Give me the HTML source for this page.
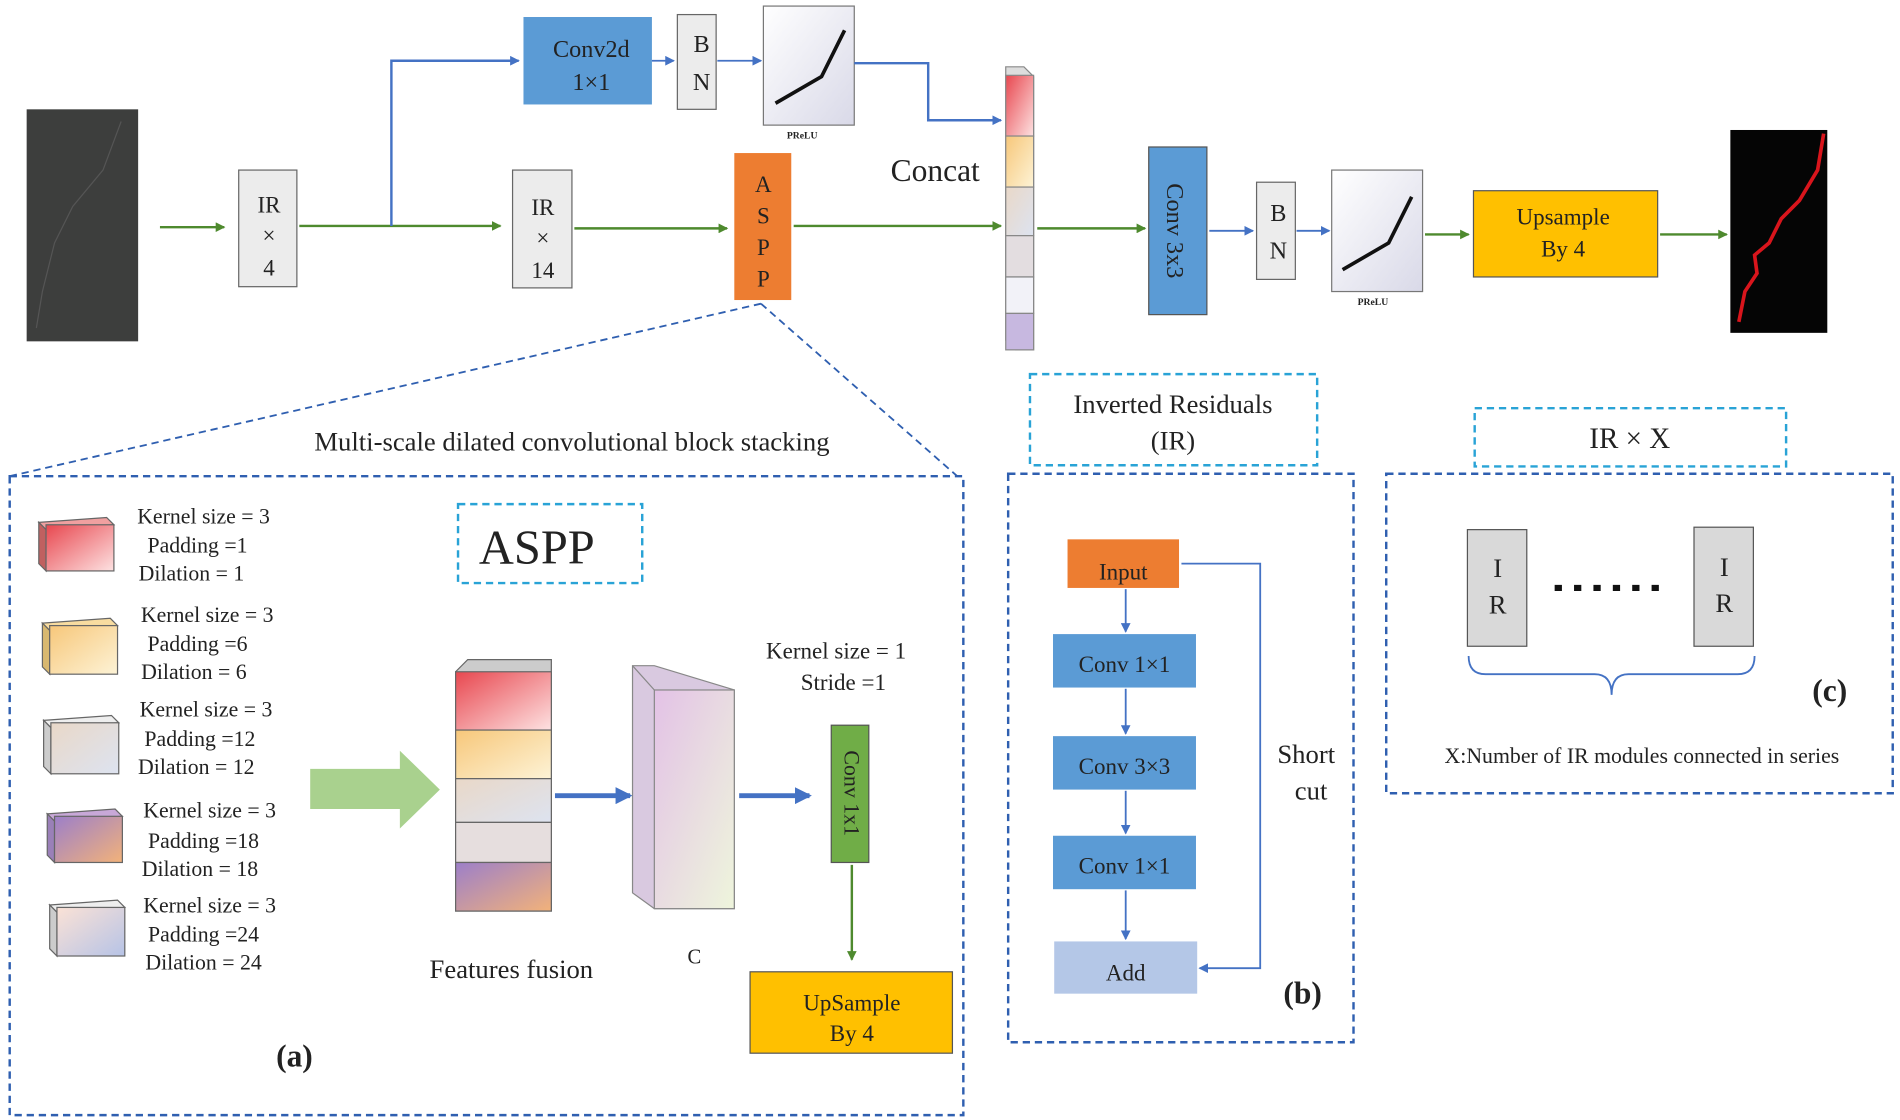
<!DOCTYPE html>
<html><head><meta charset="utf-8"><style>
html,body{margin:0;padding:0;background:#fff}
svg{display:block}
text{font-family:"Liberation Serif",serif;fill:#222}
</style></head><body>
<svg width="1900" height="1120" viewBox="0 0 1568 922" preserveAspectRatio="none" xmlns="http://www.w3.org/2000/svg">
<defs>
<marker id="ag" markerWidth="8" markerHeight="8" refX="7" refY="4" orient="auto" markerUnits="userSpaceOnUse"><path d="M0,0L8,4L0,8z" fill="#4e8a2e"/></marker>
<marker id="ab" markerWidth="8" markerHeight="8" refX="7" refY="4" orient="auto" markerUnits="userSpaceOnUse"><path d="M0,0L8,4L0,8z" fill="#4472c4"/></marker>
<marker id="ab2" markerWidth="14" markerHeight="14" refX="12" refY="7" orient="auto" markerUnits="userSpaceOnUse"><path d="M0,0L14,7L0,14z" fill="#4472c4"/></marker>
<linearGradient id="gp" x1="0" y1="0" x2="1" y2="1"><stop offset="0" stop-color="#fff"/><stop offset="1" stop-color="#d9d9e8"/></linearGradient>
<linearGradient id="c1" x1="0" y1="0" x2="1" y2="1"><stop offset="0" stop-color="#e8474f"/><stop offset="1" stop-color="#fde2e2"/></linearGradient>
<linearGradient id="c2" x1="0" y1="0" x2="1" y2="1"><stop offset="0" stop-color="#f7c77a"/><stop offset="1" stop-color="#fdf3d6"/></linearGradient>
<linearGradient id="c3" x1="0" y1="0" x2="1" y2="1"><stop offset="0" stop-color="#e9d8c8"/><stop offset="1" stop-color="#dde3f0"/></linearGradient>
<linearGradient id="c4" x1="0" y1="0" x2="1" y2="1"><stop offset="0" stop-color="#9c7fc9"/><stop offset="1" stop-color="#f2b27a"/></linearGradient>
<linearGradient id="c5" x1="0" y1="0" x2="1" y2="1"><stop offset="0" stop-color="#fbe2d6"/><stop offset="1" stop-color="#b6c3e6"/></linearGradient>
<linearGradient id="pr" x1="0" y1="0" x2="1" y2="1"><stop offset="0" stop-color="#e3c2e6"/><stop offset="1" stop-color="#eef5dc"/></linearGradient>
</defs>

<!-- input image -->
<rect x="22" y="90" width="92" height="191" fill="#3d3e3d"/>
<path d="M100,100 L85,140 L60,170 L45,200 L35,240 L30,270" stroke="#555" fill="none"/>
<line x1="132" y1="187" x2="185" y2="187" stroke="#4e8a2e" stroke-width="2" marker-end="url(#ag)"/>
<rect x="197" y="140" width="48" height="96" fill="#ececec" stroke="#666"/>
<text x="222" y="175" font-size="19" text-anchor="middle">IR</text>
<text x="222" y="200" font-size="19" text-anchor="middle">×</text>
<text x="222" y="227" font-size="19" text-anchor="middle">4</text>
<line x1="247" y1="186" x2="413" y2="186" stroke="#4e8a2e" stroke-width="2" marker-end="url(#ag)"/>
<polyline points="323,186 323,50 428,50" stroke="#4472c4" stroke-width="2" fill="none" marker-end="url(#ab)"/>
<rect x="432" y="14" width="106" height="72" fill="#5b9bd5"/>
<text x="488" y="47" font-size="20" text-anchor="middle">Conv2d</text>
<text x="488" y="74" font-size="20" text-anchor="middle">1×1</text>
<line x1="538" y1="50" x2="556" y2="50" stroke="#4472c4" stroke-width="1.5" marker-end="url(#ab)"/>
<rect x="559" y="12" width="32" height="78" fill="#ececec" stroke="#666"/>
<text x="579" y="43" font-size="20" text-anchor="middle">B</text>
<text x="579" y="74" font-size="20" text-anchor="middle">N</text>
<line x1="592" y1="50" x2="628" y2="50" stroke="#4472c4" stroke-width="1.5" marker-end="url(#ab)"/>
<rect x="630" y="5" width="75" height="98" fill="url(#gp)" stroke="#777"/>
<polyline points="640,85 678,63 697,25" stroke="#111" stroke-width="3" fill="none"/>
<text x="662" y="114" font-size="8" font-family="Liberation Sans" text-anchor="middle" font-weight="bold">PReLU</text>
<polyline points="705,52 766,52 766,99 826,99" stroke="#4472c4" stroke-width="2" fill="none" marker-end="url(#ab)"/>
<rect x="423" y="140" width="49" height="97" fill="#ececec" stroke="#666"/>
<text x="448" y="177" font-size="19" text-anchor="middle">IR</text>
<text x="448" y="202" font-size="19" text-anchor="middle">×</text>
<text x="448" y="229" font-size="19" text-anchor="middle">14</text>
<line x1="474" y1="188" x2="600" y2="188" stroke="#4e8a2e" stroke-width="2" marker-end="url(#ag)"/>
<rect x="606" y="126" width="47" height="121" fill="#ed7d31"/>
<text x="630" y="158" font-size="19" text-anchor="middle">A</text>
<text x="630" y="184" font-size="19" text-anchor="middle">S</text>
<text x="630" y="210" font-size="19" text-anchor="middle">P</text>
<text x="630" y="236" font-size="19" text-anchor="middle">P</text>
<line x1="655" y1="186" x2="826" y2="186" stroke="#4e8a2e" stroke-width="2" marker-end="url(#ag)"/>
<text x="735" y="149" font-size="26">Concat</text>
<!-- concat column -->
<polygon points="830,55 845,55 853,63 853,288 838,288 830,280" fill="#ddd" stroke="#888"/>
<rect x="830" y="62" width="23" height="50" fill="url(#c1)" stroke="#888"/>
<rect x="830" y="112" width="23" height="42" fill="url(#c2)" stroke="#888"/>
<rect x="830" y="154" width="23" height="40" fill="url(#c3)" stroke="#888"/>
<rect x="830" y="194" width="23" height="34" fill="#e3dde0" stroke="#888"/>
<rect x="830" y="228" width="23" height="30" fill="#f2f2f8" stroke="#888"/>
<rect x="830" y="258" width="23" height="30" fill="#c7b8e0" stroke="#888"/>
<line x1="856" y1="188" x2="945" y2="188" stroke="#4e8a2e" stroke-width="2" marker-end="url(#ag)"/>
<rect x="948" y="121" width="48" height="138" fill="#5b9bd5" stroke="#555"/>
<text transform="translate(963,190) rotate(90)" font-size="20" text-anchor="middle">Conv 3x3</text>
<line x1="998" y1="190" x2="1034" y2="190" stroke="#4472c4" stroke-width="1.5" marker-end="url(#ab)"/>
<rect x="1037" y="150" width="32" height="80" fill="#ececec" stroke="#666"/>
<text x="1055" y="182" font-size="20" text-anchor="middle">B</text>
<text x="1055" y="213" font-size="20" text-anchor="middle">N</text>
<line x1="1070" y1="190" x2="1097" y2="190" stroke="#4472c4" stroke-width="1.5" marker-end="url(#ab)"/>
<rect x="1099" y="140" width="75" height="100" fill="url(#gp)" stroke="#777"/>
<polyline points="1108,222 1146,200 1165,162" stroke="#111" stroke-width="3" fill="none"/>
<text x="1133" y="251" font-size="8" font-family="Liberation Sans" text-anchor="middle" font-weight="bold">PReLU</text>
<line x1="1176" y1="193" x2="1212" y2="193" stroke="#4e8a2e" stroke-width="2" marker-end="url(#ag)"/>
<rect x="1216" y="157" width="152" height="71" fill="#ffc000" stroke="#555"/>
<text x="1290" y="185" font-size="19" text-anchor="middle">Upsample</text>
<text x="1290" y="211" font-size="19" text-anchor="middle">By 4</text>
<line x1="1370" y1="193" x2="1425" y2="193" stroke="#4e8a2e" stroke-width="2" marker-end="url(#ag)"/>
<rect x="1428" y="107" width="80" height="167" fill="#050505"/>
<path d="M1505,110 L1500,140 L1485,165 L1470,180 L1460,200 L1448,210 L1450,225 L1440,240 L1435,265" stroke="#d9151c" stroke-width="3" fill="none"/>

<!-- dashed connectors -->
<line x1="628" y1="250" x2="8" y2="392" stroke="#2f5fb0" stroke-width="1.5" stroke-dasharray="6,4"/>
<line x1="628" y1="250" x2="790" y2="392" stroke="#2f5fb0" stroke-width="1.5" stroke-dasharray="6,4"/>
<text x="472" y="371" font-size="22" text-anchor="middle">Multi-scale  dilated  convolutional  block  stacking</text>

<!-- (a) -->
<rect x="8" y="392" width="787" height="526" fill="none" stroke="#2f5fb0" stroke-width="2" stroke-dasharray="6,4"/>
<rect x="378" y="415" width="152" height="65" fill="none" stroke="#29a3d6" stroke-width="2" stroke-dasharray="6,4"/>
<text x="443" y="464" font-size="40" text-anchor="middle">ASPP</text>
<g stroke="#666" stroke-width="1">
<polygon points="32,430 88,426 94,432 38,436" fill="#f0a0a0"/><polygon points="32,430 38,436 38,470 32,464" fill="#c06060"/><rect x="38" y="432" width="56" height="38" fill="url(#c1)"/>
<polygon points="35,513 91,509 97,515 41,519" fill="#f8dca0"/><polygon points="35,513 41,519 41,555 35,549" fill="#d8b870"/><rect x="41" y="515" width="56" height="40" fill="url(#c2)"/>
<polygon points="36,593 92,589 98,595 42,599" fill="#eee"/><polygon points="36,593 42,599 42,637 36,631" fill="#ccc"/><rect x="42" y="595" width="56" height="42" fill="url(#c3)"/>
<polygon points="39,670 95,666 101,672 45,676" fill="#c8a8d8"/><polygon points="39,670 45,676 45,710 39,704" fill="#9a80b8"/><rect x="45" y="672" width="56" height="38" fill="url(#c4)"/>
<polygon points="41,745 97,741 103,747 47,751" fill="#eee"/><polygon points="41,745 47,751 47,787 41,781" fill="#ccc"/><rect x="47" y="747" width="56" height="40" fill="url(#c5)"/>
</g>
<g font-size="18" text-anchor="middle">
<text x="168" y="431">Kernel size  = 3</text><text x="163" y="455">Padding  =1</text><text x="158" y="478">Dilation  = 1</text>
<text x="171" y="512">Kernel size  = 3</text><text x="163" y="536">Padding  =6</text><text x="160" y="559">Dilation  = 6</text>
<text x="170" y="590">Kernel size  = 3</text><text x="165" y="614">Padding  =12</text><text x="162" y="637">Dilation  = 12</text>
<text x="173" y="673">Kernel size  = 3</text><text x="168" y="698">Padding  =18</text><text x="165" y="721">Dilation  = 18</text>
<text x="173" y="751">Kernel size  = 3</text><text x="168" y="775">Padding  =24</text><text x="168" y="798">Dilation  = 24</text>
</g>
<polygon points="256,633 330,633 330,618 363,650 330,682 330,666 256,666" fill="#a9d18e"/>
<g stroke="#666">
<polygon points="376,553 386,543 455,543 455,750 445,750 376,750" fill="#ccc"/>
<rect x="376" y="553" width="79" height="48" fill="url(#c1)"/>
<rect x="376" y="601" width="79" height="40" fill="url(#c2)"/>
<rect x="376" y="641" width="79" height="36" fill="url(#c3)"/>
<rect x="376" y="677" width="79" height="33" fill="#e6dede"/>
<rect x="376" y="710" width="79" height="40" fill="url(#c4)"/>
</g>
<line x1="458" y1="655" x2="520" y2="655" stroke="#4472c4" stroke-width="4" marker-end="url(#ab2)"/>
<polygon points="522,548 540,548 606,568 606,748 540,748 522,735" fill="#d9c9e0" stroke="#888"/>
<rect x="540" y="568" width="66" height="180" fill="url(#pr)" stroke="#888"/>
<polyline points="522,548 540,568" stroke="#888" fill="none"/>
<text x="573" y="793" font-size="17" font-family="Liberation Sans" text-anchor="middle">C</text>
<line x1="610" y1="655" x2="668" y2="655" stroke="#4472c4" stroke-width="4" marker-end="url(#ab2)"/>
<text x="690" y="542" font-size="19" text-anchor="middle">Kernel  size   = 1</text>
<text x="696" y="568" font-size="19" text-anchor="middle">Stride  =1</text>
<rect x="686" y="597" width="31" height="113" fill="#70ad47" stroke="#555"/>
<text transform="translate(697,653) rotate(90)" font-size="18" text-anchor="middle">Conv 1x1</text>
<line x1="703" y1="712" x2="703" y2="790" stroke="#4e8a2e" stroke-width="2" marker-end="url(#ag)"/>
<rect x="619" y="800" width="167" height="67" fill="#ffc000" stroke="#555"/>
<text x="703" y="832" font-size="19" text-anchor="middle">UpSample</text>
<text x="703" y="857" font-size="19" text-anchor="middle">By 4</text>
<text x="422" y="805" font-size="22" text-anchor="middle">Features fusion</text>
<text x="243" y="878" font-size="26" font-weight="bold" text-anchor="middle">(a)</text>

<!-- (b) -->
<rect x="850" y="308" width="237" height="75" fill="none" stroke="#29a3d6" stroke-width="2" stroke-dasharray="6,4"/>
<text x="968" y="340" font-size="22" text-anchor="middle">Inverted Residuals</text>
<text x="968" y="370" font-size="22" text-anchor="middle">(IR)</text>
<rect x="832" y="390" width="285" height="468" fill="none" stroke="#2f5fb0" stroke-width="2" stroke-dasharray="6,4"/>
<rect x="881" y="444" width="92" height="40" fill="#ed7d31"/>
<text x="927" y="477" font-size="19" text-anchor="middle">Input</text>
<rect x="869" y="522" width="118" height="44" fill="#5b9bd5"/>
<text x="928" y="553" font-size="19" text-anchor="middle">Conv  1×1</text>
<rect x="869" y="606" width="118" height="44" fill="#5b9bd5"/>
<text x="928" y="637" font-size="19" text-anchor="middle">Conv  3×3</text>
<rect x="869" y="688" width="118" height="44" fill="#5b9bd5"/>
<text x="928" y="719" font-size="19" text-anchor="middle">Conv  1×1</text>
<rect x="870" y="775" width="118" height="43" fill="#b4c7e7"/>
<text x="929" y="807" font-size="19" text-anchor="middle">Add</text>
<g stroke="#4472c4" stroke-width="1.5" fill="none">
<line x1="929" y1="485" x2="929" y2="520" marker-end="url(#ab)"/>
<line x1="929" y1="567" x2="929" y2="604" marker-end="url(#ab)"/>
<line x1="929" y1="651" x2="929" y2="686" marker-end="url(#ab)"/>
<line x1="929" y1="733" x2="929" y2="773" marker-end="url(#ab)"/>
<polyline points="975,464 1040,464 1040,797 990,797" marker-end="url(#ab)"/>
</g>
<text x="1078" y="628" font-size="22" text-anchor="middle">Short</text>
<text x="1082" y="658" font-size="22" text-anchor="middle">cut</text>
<text x="1075" y="826" font-size="26" font-weight="bold" text-anchor="middle">(b)</text>

<!-- (c) -->
<rect x="1217" y="336" width="257" height="48" fill="none" stroke="#29a3d6" stroke-width="2" stroke-dasharray="6,4"/>
<text x="1345" y="369" font-size="24" text-anchor="middle">IR × X</text>
<rect x="1144" y="390" width="418" height="263" fill="none" stroke="#2f5fb0" stroke-width="2" stroke-dasharray="6,4"/>
<rect x="1211" y="436" width="49" height="96" fill="#d9d9d9" stroke="#555"/>
<text x="1236" y="475" font-size="22" text-anchor="middle">I</text>
<text x="1236" y="505" font-size="22" text-anchor="middle">R</text>
<rect x="1398" y="434" width="49" height="98" fill="#d9d9d9" stroke="#555"/>
<text x="1423" y="474" font-size="22" text-anchor="middle">I</text>
<text x="1423" y="504" font-size="22" text-anchor="middle">R</text>
<line x1="1283" y1="484" x2="1378" y2="484" stroke="#111" stroke-width="5" stroke-dasharray="6,10"/>
<path d="M1212,540 Q1212,555 1226,555 L1316,555 Q1330,555 1330,572 Q1330,555 1344,555 L1434,555 Q1448,555 1448,540" fill="none" stroke="#4472c4" stroke-width="1.5"/>
<text x="1510" y="577" font-size="26" font-weight="bold" text-anchor="middle">(c)</text>
<text x="1355" y="628" font-size="18" text-anchor="middle">X:Number  of  IR  modules  connected  in  series</text>
</svg>
</body></html>
